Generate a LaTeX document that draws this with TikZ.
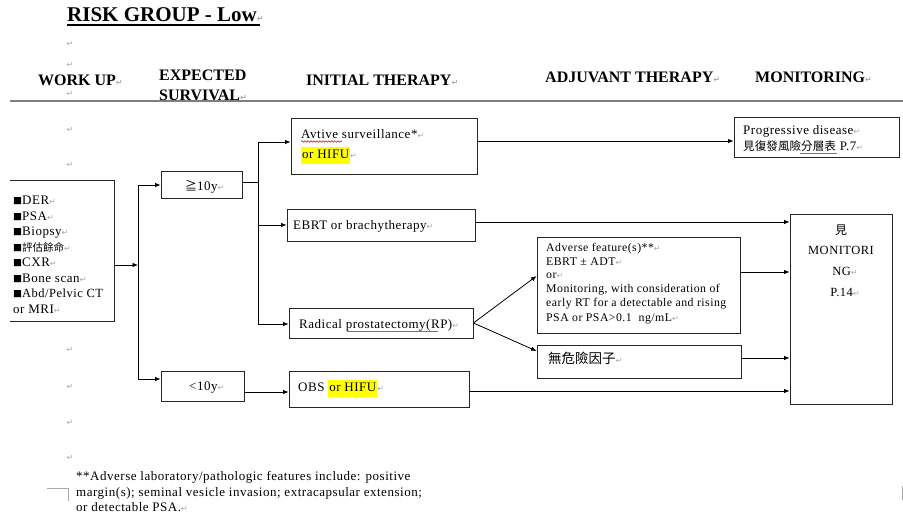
\documentclass[tikz,border=0pt]{standalone}
\usepackage{fontspec}
\setmainfont{Liberation Serif}
\newfontfamily\bodyf{Liberation Serif}[LetterSpace=4]
\newfontfamily\cjk{Noto Sans CJK TC}
\newfontfamily\symf{DejaVu Sans}
\usetikzlibrary{arrows.meta,fit,decorations.pathmorphing}
\definecolor{pmgray}{HTML}{A8A8A8}
\definecolor{rulegray}{HTML}{7F7F7F}
\definecolor{hl}{HTML}{FFFF00}
\definecolor{gramblue}{HTML}{4A7BD0}
% paragraph mark shown after each line
\newcommand\parmk{{\symf\fontsize{8}{8}\selectfont\textcolor{pmgray}{↵}}}
% yellow text highlight
\newcommand\hilite[1]{{\setlength{\fboxsep}{1pt}\colorbox{hl}{\strut #1}}}
\tikzset{
  bx/.style={draw=black!85, line width=0.9pt, inner sep=0pt},
  txt/.style={anchor=base west, inner sep=0pt, font=\bodyf\fontsize{13}{15}\selectfont},
  sml/.style={anchor=base west, inner sep=0pt, font=\bodyf\fontsize{11.8}{14}\selectfont},
  fnt/.style={anchor=base west, inner sep=0pt, font=\bodyf\fontsize{13}{15}\selectfont},
  head/.style={anchor=base west, inner sep=0pt, font=\bfseries\fontsize{16}{18}\selectfont},
  pm/.style={inner sep=0pt, font=\symf\fontsize{8}{8}\selectfont, text=pmgray},
  conn/.style={line width=0.8pt},
  arr/.style={conn, -{Latex[length=5.5pt,width=4.5pt]}},
}
\begin{document}
\begin{tikzpicture}[x=1pt,y=-1pt]
\useasboundingbox[fill=white] (0,0) rectangle (903,519);

% ---- title and column headings
\node[anchor=base west, inner sep=0pt, font=\bfseries\fontsize{21}{24}\selectfont] (title) at (67,22) {RISK GROUP - Low\parmk};
\draw[line width=1.2pt] (67,25) -- (260,25);
\node[head] (hWork) at (38,85) {WORK UP\parmk};
\node[head] (hExp1) at (159,81) {EXPECTED};
\node[head] (hExp2) at (159,100.5) {SURVIVAL\parmk};
\node[head] (hInit) at (306,86) {INITIAL THERAPY\parmk};
\node[head] (hAdj) at (545,82) {ADJUVANT THERAPY\parmk};
\node[head] (hMon) at (755,82) {MONITORING\parmk};
\draw[rulegray, line width=2pt] (10,101.5) -- (903,101.5);

% ---- empty paragraph marks down the left margin
\foreach \yy [count=\i] in {44,65,94,130,165,350,387,423,458}
  \node[pm] (pm\i) at (70,\yy) {↵};

% ---- boxes
\node[inner sep=0pt, fit={(10,181)(114,321)}] (wk) {};
\draw[black!85, line width=0.9pt] (wk.north west) -- (wk.north east) -- (wk.south east) -- (wk.south west);
\node[bx, fit={(161,171)(242,198)}] (ge) {};
\node[bx, fit={(161,371)(244,401)}] (lt) {};
\node[bx, fit={(291,118)(477,174)}] (av) {};
\node[bx, fit={(734,117)(899,157)}] (pd) {};
\node[bx, fit={(287,209)(475,241)}] (eb) {};
\node[bx, fit={(289,308)(473,338)}] (rp) {};
\node[bx, fit={(289,371)(469,407)}] (ob) {};
\node[bx, fit={(537,237)(740,333)}] (ad) {};
\node[bx, fit={(537,345)(741,378)}] (nr) {};
\node[bx, fit={(790,214)(892,404)}] (mo) {};

% ---- work-up list
\node[txt] (w1) at (13,204.5) {{\cjk\fontsize{9}{9}\selectfont ■}DER\parmk};
\node[txt] (w2) at (13,220) {{\cjk\fontsize{9}{9}\selectfont ■}PSA\parmk};
\node[txt] (w3) at (13,235.5) {{\cjk\fontsize{9}{9}\selectfont ■}Biopsy\parmk};
\node[txt] (w4) at (13,251) {{\cjk\fontsize{9}{9}\selectfont ■}{\cjk\fontsize{10.5}{12}\selectfont 評估餘命}\parmk};
\node[txt] (w5) at (13,266.5) {{\cjk\fontsize{9}{9}\selectfont ■}CXR\parmk};
\node[txt] (w6) at (13,282) {{\cjk\fontsize{9}{9}\selectfont ■}Bone scan\parmk};
\node[txt, font=\bodyf\fontsize{12.5}{15}\selectfont] (w7) at (13,297.5) {{\cjk\fontsize{9}{9}\selectfont ■}Abd/Pelvic CT};
\node[txt] (w8) at (13,313) {or MRI\parmk};

% ---- survival
\node[txt] (tge) at (185,190) {{\cjk\fontsize{12}{14}\selectfont ≧}10y\parmk};
\node[txt] (tlt) at (189,390) {<10y\parmk};

% ---- initial therapy
\node[txt] (tav1) at (301,138) {Avtive surveillance*\parmk};
\node[txt] (tav2) at (301,158) {\hilite{or HIFU}\parmk};
\draw[red!85!black, line width=0.6pt, decorate, decoration={snake, amplitude=0.7pt, segment length=3pt}] (301,141.5) -- (342,141.5);
\node[txt] (teb) at (293,229) {EBRT or brachytherapy\parmk};
\node[txt] (trp) at (299,328) {Radical prostatectomy(RP)\parmk};
\draw[gramblue, line width=1pt] (347,331.5) -- (438,331.5);
\node[txt] (tob) at (298,391) {OBS \hilite{or HIFU}\parmk};

% ---- adjuvant therapy
\node[sml] (ta1) at (546,251) {Adverse feature(s)**\parmk};
\node[sml] (ta2) at (546,265) {EBRT ± ADT\parmk};
\node[sml] (ta3) at (546,278.5) {or\parmk};
\node[sml] (ta4) at (546,292.5) {Monitoring, with consideration of};
\node[sml] (ta5) at (546,306.5) {early RT for a detectable and rising};
\node[sml] (ta6) at (546,321) {PSA or PSA>0.1\ \ ng/mL\parmk};
\node[txt, font=\cjk\fontsize{13.5}{15}\selectfont] (tnr) at (548,363) {無危險因子\parmk};

% ---- monitoring
\node[txt] (tpd1) at (743,135) {Progressive disease\parmk};
\node[txt] (tpd2) at (743,150) {{\cjk\fontsize{11.6}{13}\selectfont 見復發風險分層表} P.7\parmk};
\draw[gramblue, line width=1pt] (800,153.5) -- (837,153.5);
\node[anchor=base, inner sep=0pt, font=\cjk\fontsize{12}{14}\selectfont] (tm1) at (841,234) {見};
\node[anchor=base, inner sep=0pt, font=\bodyf\fontsize{12.5}{15}\selectfont] (tm2) at (841,254) {MONITORI};
\node[anchor=base, inner sep=0pt, font=\bodyf\fontsize{12.5}{15}\selectfont] (tm3) at (845,275) {NG\parmk};
\node[anchor=base, inner sep=0pt, font=\bodyf\fontsize{12.5}{15}\selectfont] (tm4) at (845,296) {P.14\parmk};

% ---- connectors
\coordinate (j1) at (138,265);
\coordinate (j1t) at (138,185);
\coordinate (j1b) at (138,379);
\draw[arr] (wk.east |- j1) -- (j1);
\draw[conn] (j1t) -- (j1b);
\draw[arr] (j1t) -- (ge.west |- j1t);
\draw[arr] (j1b) -- (lt.west |- j1b);

\coordinate (j2) at (258,182);
\coordinate (j2t) at (258,142);
\coordinate (j2m) at (258,225);
\coordinate (j2b) at (258,324);
\draw[conn] (ge.east |- j2) -- (j2);
\draw[conn] (j2t) -- (j2b);
\draw[arr] (j2t) -- (av.west |- j2t);
\draw[arr] (j2m) -- (eb.west |- j2m);
\draw[arr] (j2b) -- (rp.west |- j2b);

\coordinate (r1) at (0,141);
\draw[arr] (av.east |- r1) -- (pd.west |- r1);
\coordinate (r2) at (0,222);
\draw[arr] (eb.east |- r2) -- (mo.west |- r2);
\coordinate (r3) at (0,276);
\coordinate (r4) at (0,351);
\draw[arr] (rp.east) -- (ad.west |- r3);
\draw[arr] (rp.east) -- (nr.west |- r4);
\coordinate (r5) at (0,272);
\draw[arr] (ad.east |- r5) -- (mo.west |- r5);
\coordinate (r6) at (0,358);
\draw[arr] (nr.east |- r6) -- (mo.west |- r6);
\coordinate (r7) at (0,392);
\draw[arr] (lt.east |- r7) -- (ob.west |- r7);
\coordinate (r8) at (0,391);
\draw[arr] (ob.east |- r8) -- (mo.west |- r8);

% ---- footnote
\node[fnt] (fn1) at (76,480) {**Adverse laboratory/pathologic features include: positive};
\node[fnt] (fn2) at (76,496) {margin(s); seminal vesicle invasion; extracapsular extension;};
\node[fnt] (fn3) at (76,511) {or detectable PSA.\parmk};
\draw[pmgray, line width=0.6pt] (47,488) -- (68,488) -- (68,501);
\draw[pmgray, line width=0.6pt] (902,486) -- (902,500);
\end{tikzpicture}
\end{document}
